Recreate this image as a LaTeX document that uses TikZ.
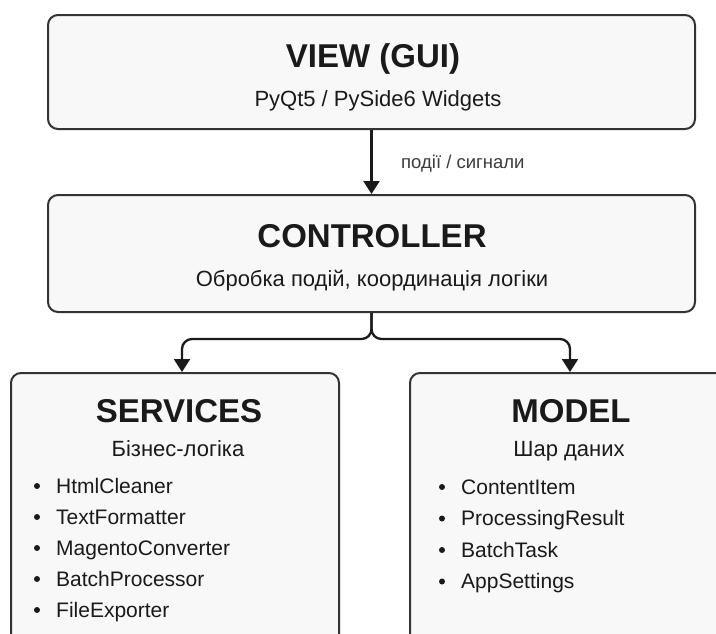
\documentclass[tikz,border=0pt]{standalone}
\usepackage{fontspec}
\setmainfont{Liberation Sans}
\usetikzlibrary{arrows.meta,positioning}

\definecolor{boxline}{HTML}{333333}
\definecolor{boxfill}{HTML}{F8F8F8}
\definecolor{ink}{HTML}{1A1A1A}

\tikzset{
  layer/.style={draw=boxline, fill=boxfill, line width=2pt, rounded corners=10pt, inner sep=0pt},
  title/.style={font=\fontsize{33}{36}\selectfont\bfseries, text=ink, inner sep=0pt, anchor=base},
  subtitle/.style={font=\fontsize{22}{26}\selectfont, text=ink, inner sep=0pt, anchor=base},
  item/.style={font=\fontsize{21}{24}\selectfont, text=ink, inner sep=0pt, anchor=base west},
  signal/.style={font=\fontsize{18.5}{22}\selectfont, text=ink!85, inner sep=0pt, anchor=base west},
  flow/.style={draw=ink, line width=2.3pt, -{Triangle[length=13pt,width=16pt]}},
}

\begin{document}
\begin{tikzpicture}[x=1pt,y=-1pt]
		\clip (0,0) rectangle (716,633);
		\fill[white] (0,0) rectangle (716,633);

		% layers
		\node[layer, minimum width=647pt, minimum height=114pt] (view) at (371.5,72) {};
		\node[layer, minimum width=647pt, minimum height=117pt] (controller) at (371.5,253.5) {};
		\node[layer, minimum width=328pt, minimum height=290pt] (services) at (175,518) {};
		\node[layer, minimum width=330pt, minimum height=290pt] (model) at (575,518) {};

		\node[title] (viewtitle) at (373,67) {VIEW (GUI)};
		\node[subtitle] (viewsub) at (378,106) {PyQt5 / PySide6 Widgets};

		\node[title] (ctrltitle) at (372,247) {CONTROLLER};
		\node[subtitle] (ctrlsub) at (372,286) {Обробка подій, координація логіки};

		\node[title] (svctitle) at (179,422) {SERVICES};
		\node[subtitle] (svcsub) at (178,456) {Бізнес-логіка};

		\node[title] (modeltitle) at (571,422) {MODEL};
		\node[subtitle] (modelsub) at (569,456) {Шар даних};

		% bullet lists
		\foreach \name [count=\i from 0] in {HtmlCleaner,TextFormatter,MagentoConverter,BatchProcessor,FileExporter} {
			\fill[ink] (37,{486+31*\i}) circle (3pt);
			\node[item] (svc\i) at (56,{493+31*\i}) {\name};
		}
		\foreach \name [count=\i from 0] in {ContentItem,ProcessingResult,BatchTask,AppSettings} {
			\fill[ink] (442,{487+31.5*\i}) circle (3pt);
			\node[item] (mdl\i) at (461,{494+31.5*\i}) {\name};
		}

		% connectors
		\draw[flow] (view) -- (controller);
		\node[signal] (signals) at (401,168) {події / сигнали};

		\draw[flow, rounded corners=10pt] (controller.south) -- ++(0,26) -| ([xshift=7pt]services.north);
		\draw[flow, rounded corners=10pt] (controller.south) -- ++(0,26) -| ([xshift=-5pt]model.north);
	\end{tikzpicture}
\end{document}
